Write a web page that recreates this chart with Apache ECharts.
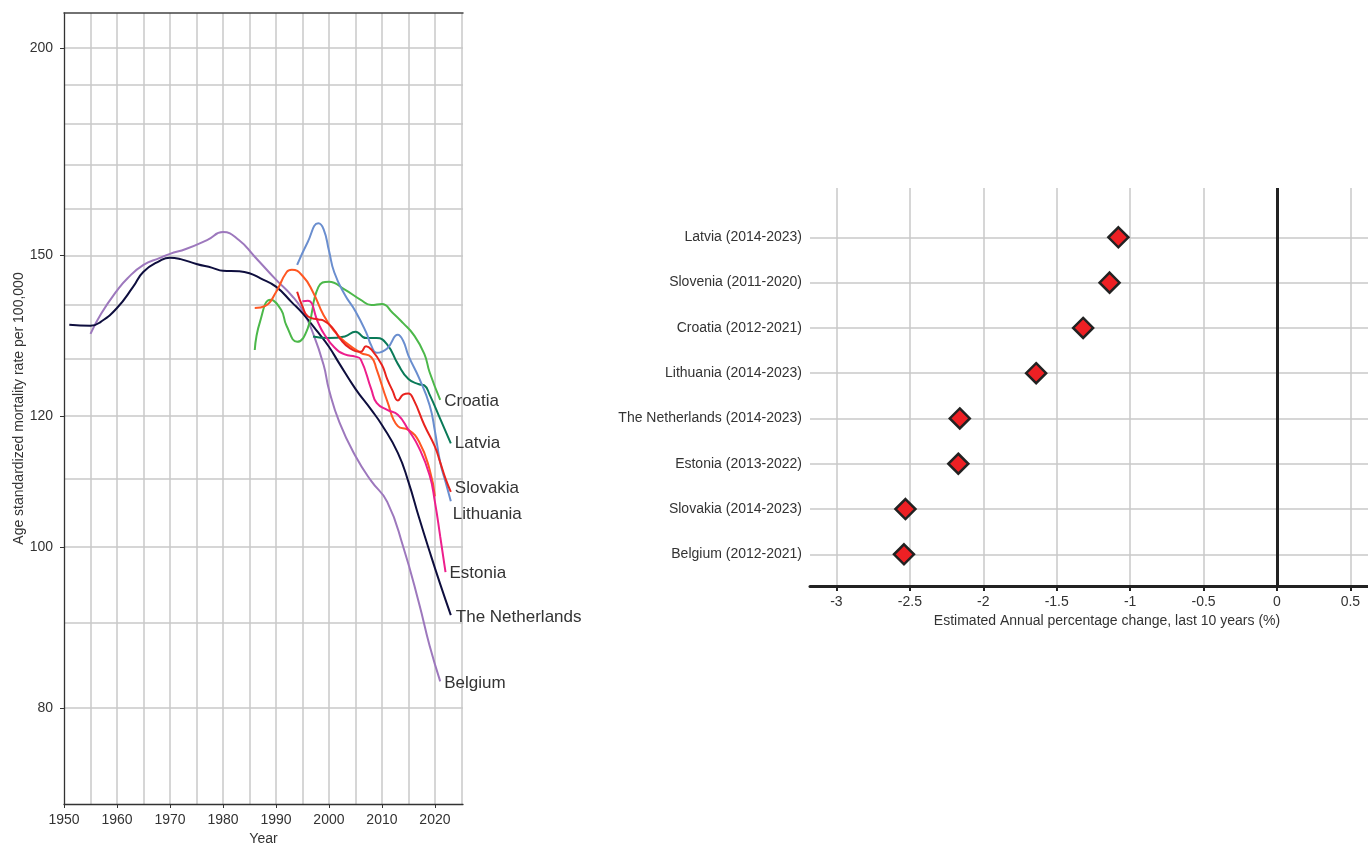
<!DOCTYPE html>
<html>
<head>
<meta charset="utf-8">
<title>Mortality trends and annual percentage change</title>
<script src="https://cdn.jsdelivr.net/npm/echarts@6.0.0/dist/echarts.min.js"></script>
<style>
  html, body { margin: 0; padding: 0; background: #fff; overflow: hidden; }
  #chart { width: 1368px; height: 843px; }
</style>
</head>
<body>
<div id="chart"></div>
<script>
// ---- left panel: smoothed age standardized mortality rate (per 100,000) ----
const nlYears = [1951, 1955, 1957, 1960, 1963, 1965, 1968, 1970, 1972, 1975, 1978, 1980, 1983, 1985, 1987, 1990, 1993, 1995, 1998, 2000, 2002, 2005, 2008, 2010, 2013, 2015, 2017, 2019, 2021, 2023];
const nlRates = [136.2, 136.0, 136.8, 139.4, 143.5, 146.6, 148.8, 149.5, 149.2, 148.2, 147.4, 146.8, 146.7, 146.3, 145.3, 143.6, 140.5, 138.4, 134.7, 132.1, 129.0, 124.6, 121.0, 118.5, 114.0, 109.5, 104.2, 99.4, 95.0, 91.0];

const beYears = [1955, 1957, 1960, 1962, 1965, 1968, 1970, 1973, 1977, 1980, 1983, 1986, 1990, 1993, 1995, 1997, 1999, 2000, 2002, 2005, 2008, 2011, 2014, 2017, 2019, 2021];
const beRates = [134.5, 138.3, 142.8, 145.3, 148.0, 149.4, 150.3, 151.3, 153.2, 154.9, 153.2, 149.7, 145.0, 141.8, 139.0, 134.6, 128.8, 124.5, 118.9, 113.5, 109.6, 106.5, 100.1, 92.5, 87.2, 83.0];

const hrYears = [1986, 1987, 1989, 1991, 1992, 1994, 1996, 1998, 2000, 2003, 2006, 2008, 2010, 2012, 2014, 2016, 2018, 2019, 2021];
const hrRates = [131.5, 136.8, 141.0, 139.0, 136.0, 133.0, 135.5, 143.5, 144.6, 143.0, 141.0, 140.0, 140.2, 138.5, 136.5, 134.3, 130.8, 127.5, 122.7];

const lvYears = [1997, 2000, 2003, 2005, 2007, 2009, 2011, 2013, 2015, 2017, 2018, 2019, 2021, 2023];
const lvRates = [134.0, 133.7, 134.0, 134.9, 133.7, 133.7, 132.5, 129.0, 126.3, 125.4, 125.2, 123.6, 119.5, 115.5];

const ltYears = [1994, 1996, 1998, 1999, 2000, 2001, 2003, 2005, 2007, 2008, 2009, 2011, 2013, 2014, 2015, 2017, 2019, 2020, 2021, 2022, 2023];
const ltRates = [148.0, 152.8, 156.8, 155.5, 151.0, 146.5, 142.0, 138.8, 134.8, 132.3, 131.0, 131.8, 134.3, 133.2, 130.5, 126.5, 121.8, 117.5, 112.5, 109.5, 106.6];

const siYears = [1986, 1988, 1990, 1992, 1993, 1995, 1997, 1999, 2001, 2003, 2006, 2008, 2009, 2011, 2013, 2015, 2017, 2019, 2020];
const siRates = [139.4, 139.8, 142.5, 146.5, 147.0, 145.8, 142.5, 138.0, 135.0, 133.0, 131.0, 130.2, 128.0, 122.5, 118.3, 117.7, 115.8, 111.4, 107.3];

const skYears = [1994, 1995, 1996, 1998, 1999, 2001, 2002, 2004, 2006, 2007, 2008, 2010, 2011, 2012, 2013, 2014, 2015, 2016, 2018, 2020, 2021, 2022, 2023];
const skRates = [142.6, 139.7, 137.8, 137.2, 137.0, 135.2, 133.7, 131.8, 131.2, 132.2, 131.6, 128.8, 126.3, 124.3, 122.6, 123.6, 123.8, 122.7, 118.5, 115.0, 112.5, 110.0, 108.0];

const eeYears = [1995, 1996, 1998, 1999, 2001, 2003, 2005, 2006, 2008, 2009, 2011, 2013, 2015, 2017, 2019, 2020, 2021, 2022];
const eeRates = [140.7, 140.8, 136.5, 134.6, 132.0, 130.7, 130.3, 129.8, 124.5, 122.2, 121.0, 120.2, 117.7, 114.8, 110.5, 106.5, 101.5, 96.6];

const yearLabels = [1950, 1960, 1970, 1980, 1990, 2000, 2010, 2020];
const yearGrid = [1955, 1960, 1965, 1970, 1975, 1980, 1985, 1990, 1995, 2000, 2005, 2010, 2015, 2020, 2025];
const rateLabels = [80, 100, 120, 150, 200];
const rateGrid = [80, 90, 100, 110, 120, 130, 140, 150, 160, 170, 180, 190, 200];

// ---- right panel: estimated annual percentage change, last 10 years ----
const periods = [
    'Latvia (2014-2023)',
    'Slovenia (2011-2020)',
    'Croatia (2012-2021)',
    'Lithuania (2014-2023)',
    'The Netherlands (2014-2023)',
    'Estonia (2013-2022)',
    'Slovakia (2014-2023)',
    'Belgium (2012-2021)'
];
const apcValues = [-1.08, -1.14, -1.32, -1.64, -2.16, -2.17, -2.53, -2.54];
const apcTicks = [-3, -2.5, -2, -1.5, -1, -0.5, 0, 0.5];

// styles kept apart from the data
const textColor = '#333';
const gridColor = '#c8c8c8';

const lineSeries = (name, years, rates, color, labelOffset) => ({
    type: 'line',
    name,
    xAxisIndex: 0,
    yAxisIndex: 0,
    data: years.map((y, i) => [y, rates[i]]),
    smooth: 0.5,
    showSymbol: false,
    silent: true,
    lineStyle: { width: 2, color },
    itemStyle: { color },
    endLabel: labelOffset ? {
        show: true,
        formatter: name,
        position: 'right',
        distance: 4,
        offset: labelOffset,
        color: textColor,
        fontSize: 17,
        fontFamily: 'Liberation Sans, Arial, sans-serif'
    } : { show: false }
});

const rowOf = i => periods.length - i;  // top row gets the highest axis value
const rowValues = periods.map((p, i) => rowOf(i));

const chart = echarts.init(document.getElementById('chart'));

chart.setOption({
    animation: false,
    textStyle: { fontFamily: 'Liberation Sans, Arial, sans-serif' },
    grid: [
        { left: 64, top: 13, right: 905, bottom: 39, outerBoundsMode: 'none' },
        { left: 810, top: 188, right: 0, bottom: 257, outerBoundsMode: 'none' }
    ],
    xAxis: [
        {
            gridIndex: 0, type: 'value', position: 'bottom', min: 1950, max: 2025.3,
            name: 'Year', nameLocation: 'middle', nameGap: 26,
            nameTextStyle: { fontSize: 14, color: textColor },
            axisLine: { lineStyle: { color: '#333', width: 1.3 } },
            axisTick: { customValues: yearLabels, length: 4, lineStyle: { color: '#333' } },
            axisLabel: { customValues: yearLabels, formatter: v => String(v), fontSize: 14, color: textColor, margin: 9 },
            splitLine: { show: false }
        },
        {
            gridIndex: 0, type: 'value', position: 'top', min: 1950, max: 2025.3,
            axisLine: { show: true, lineStyle: { color: '#444', width: 1.5 } },
            axisTick: { show: false, customValues: yearGrid },
            axisLabel: { show: false, customValues: yearGrid },
            splitLine: { show: true, lineStyle: { color: gridColor, width: 1.5 } }
        },
        {
            gridIndex: 1, type: 'value', min: -3.18, max: 0.62,
            name: 'Estimated Annual percentage change, last 10 years (%)',
            nameLocation: 'middle', nameGap: 28,
            nameTextStyle: { fontSize: 14, color: textColor, padding: [0, 0, 0, 36] },
            axisLine: { lineStyle: { color: '#222', width: 3 } },
            axisTick: { customValues: apcTicks, length: 5, lineStyle: { color: '#222', width: 2 } },
            axisLabel: { customValues: apcTicks, fontSize: 14, color: textColor, margin: 9 },
            splitLine: { show: true, lineStyle: { color: gridColor, width: 1.5 } }
        }
    ],
    yAxis: [
        {
            gridIndex: 0, type: 'log', logBase: 10, min: 70, max: 210,
            name: 'Age standardized mortality rate per 100,000',
            nameLocation: 'middle', nameGap: 38,
            nameTextStyle: { fontSize: 14, color: textColor },
            axisLine: { show: true, lineStyle: { color: '#333', width: 1.3 } },
            axisTick: { show: true, customValues: rateLabels, length: 4, lineStyle: { color: '#333' } },
            axisLabel: { customValues: rateLabels, fontSize: 14, color: textColor, margin: 11 },
            splitLine: { show: false }
        },
        {
            gridIndex: 0, type: 'log', logBase: 10, min: 70, max: 210, position: 'left',
            axisLine: { show: false },
            axisTick: { show: false, customValues: rateGrid },
            axisLabel: { show: false, customValues: rateGrid },
            splitLine: { show: true, lineStyle: { color: gridColor, width: 1.5 } }
        },
        {
            gridIndex: 1, type: 'value', min: 0.3, max: 9.09,
            axisLine: { show: false },
            axisTick: { show: false, customValues: rowValues },
            axisLabel: {
                customValues: rowValues,
                formatter: v => periods[periods.length - v] || '',
                fontSize: 14, color: textColor, margin: 8
            },
            splitLine: { show: true, lineStyle: { color: gridColor, width: 1.5 } }
        }
    ],
    series: [
        lineSeries('Belgium', beYears, beRates, '#9d78bd', [0, 2]),
        lineSeries('The Netherlands', nlYears, nlRates, '#0e0e3e', [1, 2]),
        lineSeries('Croatia', hrYears, hrRates, '#4cb84a', [0, 1]),
        lineSeries('Latvia', lvYears, lvRates, '#0a7a58', [0, 0]),
        lineSeries('Lithuania', ltYears, ltRates, '#6a8ecf', [-2, 13]),
        lineSeries('Slovenia', siYears, siRates, '#ff5722', null),
        lineSeries('Estonia', eeYears, eeRates, '#ed1e8c', [0, 1]),
        lineSeries('Slovakia', skYears, skRates, '#e8231e', [0, -3]),
        {
            type: 'scatter',
            name: 'APC',
            xAxisIndex: 2,
            yAxisIndex: 2,
            data: apcValues.map((v, i) => [v, rowOf(i)]),
            symbol: 'diamond',
            symbolSize: 20,
            itemStyle: { color: '#ee2024', borderColor: '#222', borderWidth: 2.5, opacity: 1 },
            silent: true,
            markLine: {
                silent: true,
                symbol: ['none', 'none'],
                label: { show: false },
                lineStyle: { color: '#222', width: 3, type: 'solid' },
                data: [{ xAxis: 0 }]
            }
        }
    ]
});
</script>
</body>
</html>
